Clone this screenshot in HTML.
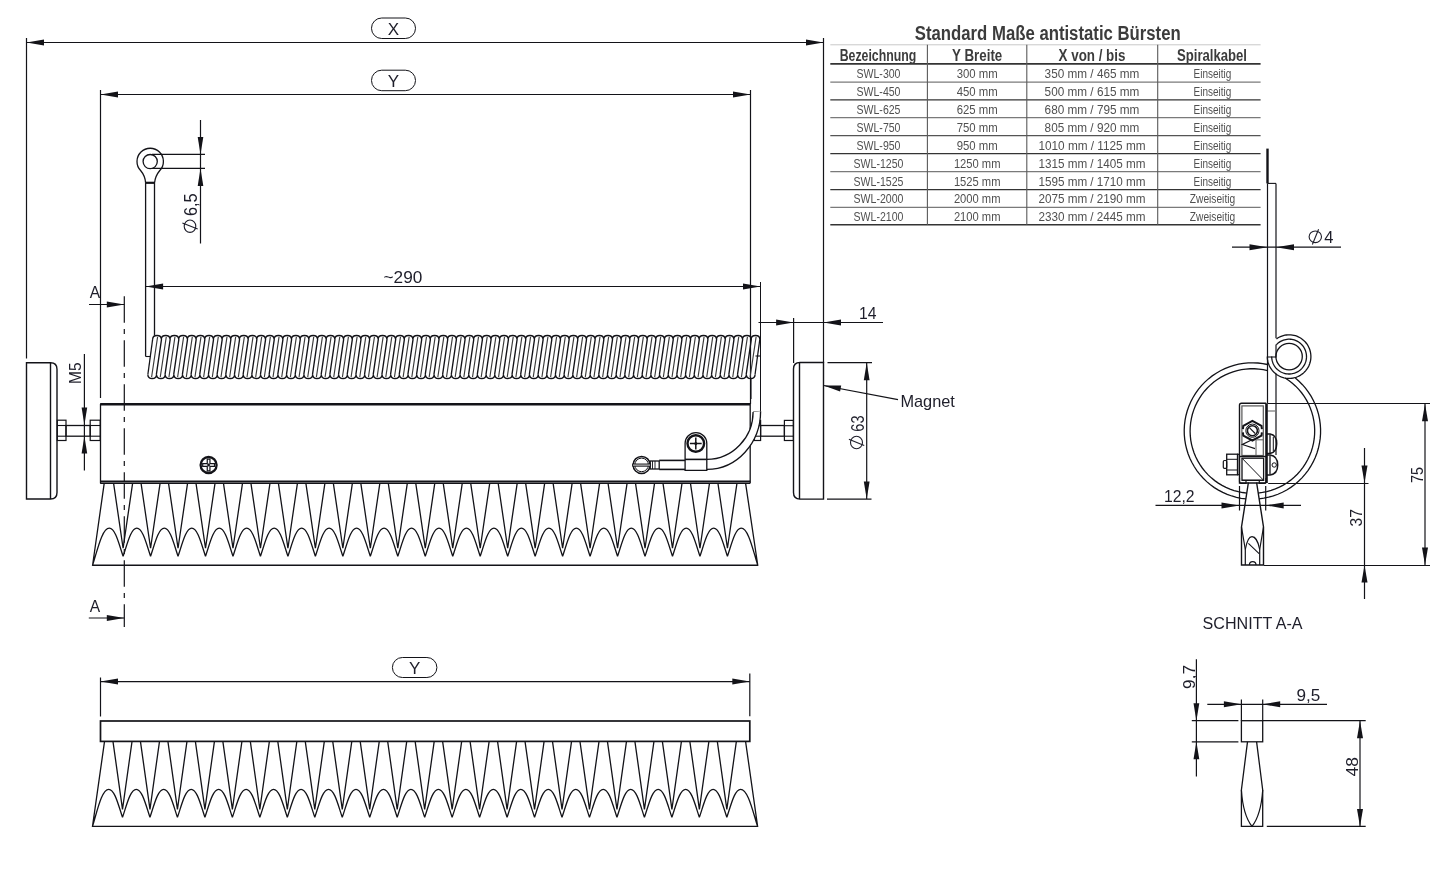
<!DOCTYPE html>
<html><head><meta charset="utf-8"><style>
html,body{margin:0;padding:0;background:#fff;width:1448px;height:880px;overflow:hidden}
svg{display:block;will-change:transform}
</style></head><body>
<svg width="1448" height="880" viewBox="0 0 1448 880">
<rect width="1448" height="880" fill="#fff"/>
<line x1="26.5" y1="38" x2="26.5" y2="358.5" stroke="#131318" stroke-width="1.2" />
<line x1="823.5" y1="38" x2="823.5" y2="363" stroke="#131318" stroke-width="1.2" />
<line x1="26.5" y1="42.5" x2="823.5" y2="42.5" stroke="#131318" stroke-width="1.2" />
<polygon points="26.5,42.5 44,39.5 44,45.5" fill="#131318"/>
<polygon points="823.5,42.5 806,39.5 806,45.5" fill="#131318"/>
<rect x="371.5" y="18" width="44" height="20.5" rx="10.2" stroke="#131318" stroke-width="1.0" fill="none"/>
<text x="393.4" y="35" font-family="Liberation Sans" font-size="17" font-weight="normal" fill="#1e1e2a" text-anchor="middle">X</text>
<line x1="100.5" y1="90" x2="100.5" y2="398" stroke="#131318" stroke-width="1.2" />
<line x1="750.5" y1="90" x2="750.5" y2="404" stroke="#131318" stroke-width="1.2" />
<line x1="100.5" y1="94.5" x2="750.5" y2="94.5" stroke="#131318" stroke-width="1.2" />
<polygon points="100.5,94.5 118,91.5 118,97.5" fill="#131318"/>
<polygon points="750.5,94.5 733,91.5 733,97.5" fill="#131318"/>
<rect x="371.5" y="70.2" width="44" height="20.5" rx="10.2" stroke="#131318" stroke-width="1.0" fill="none"/>
<text x="393.4" y="87.3" font-family="Liberation Sans" font-size="17" font-weight="normal" fill="#1e1e2a" text-anchor="middle">Y</text>
<path d="M145.6,182.8 Q145.2,176 140.6,170.5 A13.2,13.2 0 1 1 159.8,170.5 Q155.2,176 154.6,182.8" stroke="#131318" stroke-width="1.3" fill="none" />
<circle cx="150.2" cy="161.6" r="7.1" stroke="#131318" stroke-width="1.3" fill="none"/>
<line x1="145.2" y1="182.8" x2="155" y2="182.8" stroke="#131318" stroke-width="2.2" />
<line x1="145.6" y1="182.8" x2="145.6" y2="356.5" stroke="#131318" stroke-width="1.3" />
<line x1="154.5" y1="182.8" x2="154.5" y2="335.5" stroke="#131318" stroke-width="1.3" />
<line x1="152" y1="154.4" x2="205" y2="154.4" stroke="#131318" stroke-width="1.2" />
<line x1="152" y1="168.4" x2="205" y2="168.4" stroke="#131318" stroke-width="1.2" />
<line x1="200.5" y1="120" x2="200.5" y2="243.5" stroke="#131318" stroke-width="1.2" />
<polygon points="200.5,154.4 197.7,136.9 203.3,136.9" fill="#131318"/>
<polygon points="200.5,168.4 197.7,185.9 203.3,185.9" fill="#131318"/>
<text x="197" y="216" font-family="Liberation Sans" font-size="18" font-weight="normal" fill="#1e1e2a" text-anchor="start" transform="rotate(-90 197 216)" textLength="22.7" lengthAdjust="spacingAndGlyphs">6,5</text>
<g transform="rotate(-90 190 226.2)"><ellipse cx="190" cy="226.2" rx="6.2" ry="5.8" stroke="#1e1e2a" stroke-width="1.1" fill="none"/><line x1="193.3" y1="218.6" x2="187.1" y2="233.9" stroke="#1e1e2a" stroke-width="1.1"/></g>
<line x1="145.6" y1="286.5" x2="760.5" y2="286.5" stroke="#131318" stroke-width="1.2" />
<polygon points="145.6,286.5 163.1,283.5 163.1,289.5" fill="#131318"/>
<polygon points="760.5,286.5 743,283.5 743,289.5" fill="#131318"/>
<line x1="760.5" y1="282" x2="760.5" y2="411" stroke="#131318" stroke-width="1.0" />
<text x="383.5" y="282.9" font-family="Liberation Sans" font-size="17" font-weight="normal" fill="#1e1e2a" text-anchor="start" textLength="38.8" lengthAdjust="spacingAndGlyphs">~290</text>
<path d="M152.66,339.2 C152.76,334.2 161.24,334.2 161.34,339.2 M147.86,374.7 C147.96,379.7 156.44,379.7 156.54,374.7 M161.34,339.2 C161.44,334.2 169.91,334.2 170.01,339.2 M156.54,374.7 C156.64,379.7 165.11,379.7 165.21,374.7 M170.01,339.2 C170.11,334.2 178.58,334.2 178.68,339.2 M165.21,374.7 C165.31,379.7 173.78,379.7 173.88,374.7 M178.68,339.2 C178.78,334.2 187.26,334.2 187.36,339.2 M173.88,374.7 C173.98,379.7 182.46,379.7 182.56,374.7 M187.36,339.2 C187.46,334.2 195.93,334.2 196.03,339.2 M182.56,374.7 C182.66,379.7 191.13,379.7 191.23,374.7 M196.03,339.2 C196.13,334.2 204.61,334.2 204.71,339.2 M191.23,374.7 C191.33,379.7 199.81,379.7 199.91,374.7 M204.71,339.2 C204.81,334.2 213.28,334.2 213.38,339.2 M199.91,374.7 C200.01,379.7 208.48,379.7 208.58,374.7 M213.38,339.2 C213.48,334.2 221.95,334.2 222.05,339.2 M208.58,374.7 C208.68,379.7 217.15,379.7 217.25,374.7 M222.05,339.2 C222.15,334.2 230.63,334.2 230.73,339.2 M217.25,374.7 C217.35,379.7 225.83,379.7 225.93,374.7 M230.73,339.2 C230.83,334.2 239.3,334.2 239.4,339.2 M225.93,374.7 C226.03,379.7 234.5,379.7 234.6,374.7 M239.4,339.2 C239.5,334.2 247.98,334.2 248.08,339.2 M234.6,374.7 C234.7,379.7 243.18,379.7 243.28,374.7 M248.08,339.2 C248.18,334.2 256.65,334.2 256.75,339.2 M243.28,374.7 C243.38,379.7 251.85,379.7 251.95,374.7 M256.75,339.2 C256.85,334.2 265.32,334.2 265.42,339.2 M251.95,374.7 C252.05,379.7 260.52,379.7 260.62,374.7 M265.42,339.2 C265.52,334.2 274,334.2 274.1,339.2 M260.62,374.7 C260.72,379.7 269.2,379.7 269.3,374.7 M274.1,339.2 C274.2,334.2 282.67,334.2 282.77,339.2 M269.3,374.7 C269.4,379.7 277.87,379.7 277.97,374.7 M282.77,339.2 C282.87,334.2 291.35,334.2 291.45,339.2 M277.97,374.7 C278.07,379.7 286.55,379.7 286.65,374.7 M291.45,339.2 C291.55,334.2 300.02,334.2 300.12,339.2 M286.65,374.7 C286.75,379.7 295.22,379.7 295.32,374.7 M300.12,339.2 C300.22,334.2 308.69,334.2 308.79,339.2 M295.32,374.7 C295.42,379.7 303.89,379.7 303.99,374.7 M308.79,339.2 C308.89,334.2 317.37,334.2 317.47,339.2 M303.99,374.7 C304.09,379.7 312.57,379.7 312.67,374.7 M317.47,339.2 C317.57,334.2 326.04,334.2 326.14,339.2 M312.67,374.7 C312.77,379.7 321.24,379.7 321.34,374.7 M326.14,339.2 C326.24,334.2 334.72,334.2 334.82,339.2 M321.34,374.7 C321.44,379.7 329.92,379.7 330.02,374.7 M334.82,339.2 C334.92,334.2 343.39,334.2 343.49,339.2 M330.02,374.7 C330.12,379.7 338.59,379.7 338.69,374.7 M343.49,339.2 C343.59,334.2 352.06,334.2 352.16,339.2 M338.69,374.7 C338.79,379.7 347.26,379.7 347.36,374.7 M352.16,339.2 C352.26,334.2 360.74,334.2 360.84,339.2 M347.36,374.7 C347.46,379.7 355.94,379.7 356.04,374.7 M360.84,339.2 C360.94,334.2 369.41,334.2 369.51,339.2 M356.04,374.7 C356.14,379.7 364.61,379.7 364.71,374.7 M369.51,339.2 C369.61,334.2 378.08,334.2 378.18,339.2 M364.71,374.7 C364.81,379.7 373.28,379.7 373.38,374.7 M378.18,339.2 C378.28,334.2 386.76,334.2 386.86,339.2 M373.38,374.7 C373.48,379.7 381.96,379.7 382.06,374.7 M386.86,339.2 C386.96,334.2 395.43,334.2 395.53,339.2 M382.06,374.7 C382.16,379.7 390.63,379.7 390.73,374.7 M395.53,339.2 C395.63,334.2 404.11,334.2 404.21,339.2 M390.73,374.7 C390.83,379.7 399.31,379.7 399.41,374.7 M404.21,339.2 C404.31,334.2 412.78,334.2 412.88,339.2 M399.41,374.7 C399.51,379.7 407.98,379.7 408.08,374.7 M412.88,339.2 C412.98,334.2 421.45,334.2 421.55,339.2 M408.08,374.7 C408.18,379.7 416.65,379.7 416.75,374.7 M421.55,339.2 C421.65,334.2 430.13,334.2 430.23,339.2 M416.75,374.7 C416.85,379.7 425.33,379.7 425.43,374.7 M430.23,339.2 C430.33,334.2 438.8,334.2 438.9,339.2 M425.43,374.7 C425.53,379.7 434,379.7 434.1,374.7 M438.9,339.2 C439,334.2 447.48,334.2 447.58,339.2 M434.1,374.7 C434.2,379.7 442.68,379.7 442.78,374.7 M447.58,339.2 C447.68,334.2 456.15,334.2 456.25,339.2 M442.78,374.7 C442.88,379.7 451.35,379.7 451.45,374.7 M456.25,339.2 C456.35,334.2 464.82,334.2 464.92,339.2 M451.45,374.7 C451.55,379.7 460.02,379.7 460.12,374.7 M464.92,339.2 C465.02,334.2 473.5,334.2 473.6,339.2 M460.12,374.7 C460.22,379.7 468.7,379.7 468.8,374.7 M473.6,339.2 C473.7,334.2 482.17,334.2 482.27,339.2 M468.8,374.7 C468.9,379.7 477.37,379.7 477.47,374.7 M482.27,339.2 C482.37,334.2 490.85,334.2 490.95,339.2 M477.47,374.7 C477.57,379.7 486.05,379.7 486.15,374.7 M490.95,339.2 C491.05,334.2 499.52,334.2 499.62,339.2 M486.15,374.7 C486.25,379.7 494.72,379.7 494.82,374.7 M499.62,339.2 C499.72,334.2 508.19,334.2 508.29,339.2 M494.82,374.7 C494.92,379.7 503.39,379.7 503.49,374.7 M508.29,339.2 C508.39,334.2 516.87,334.2 516.97,339.2 M503.49,374.7 C503.59,379.7 512.07,379.7 512.17,374.7 M516.97,339.2 C517.07,334.2 525.54,334.2 525.64,339.2 M512.17,374.7 C512.27,379.7 520.74,379.7 520.84,374.7 M525.64,339.2 C525.74,334.2 534.22,334.2 534.32,339.2 M520.84,374.7 C520.94,379.7 529.42,379.7 529.52,374.7 M534.32,339.2 C534.42,334.2 542.89,334.2 542.99,339.2 M529.52,374.7 C529.62,379.7 538.09,379.7 538.19,374.7 M542.99,339.2 C543.09,334.2 551.56,334.2 551.66,339.2 M538.19,374.7 C538.29,379.7 546.76,379.7 546.86,374.7 M551.66,339.2 C551.76,334.2 560.24,334.2 560.34,339.2 M546.86,374.7 C546.96,379.7 555.44,379.7 555.54,374.7 M560.34,339.2 C560.44,334.2 568.91,334.2 569.01,339.2 M555.54,374.7 C555.64,379.7 564.11,379.7 564.21,374.7 M569.01,339.2 C569.11,334.2 577.58,334.2 577.68,339.2 M564.21,374.7 C564.31,379.7 572.78,379.7 572.88,374.7 M577.68,339.2 C577.78,334.2 586.26,334.2 586.36,339.2 M572.88,374.7 C572.98,379.7 581.46,379.7 581.56,374.7 M586.36,339.2 C586.46,334.2 594.93,334.2 595.03,339.2 M581.56,374.7 C581.66,379.7 590.13,379.7 590.23,374.7 M595.03,339.2 C595.13,334.2 603.61,334.2 603.71,339.2 M590.23,374.7 C590.33,379.7 598.81,379.7 598.91,374.7 M603.71,339.2 C603.81,334.2 612.28,334.2 612.38,339.2 M598.91,374.7 C599.01,379.7 607.48,379.7 607.58,374.7 M612.38,339.2 C612.48,334.2 620.95,334.2 621.05,339.2 M607.58,374.7 C607.68,379.7 616.15,379.7 616.25,374.7 M621.05,339.2 C621.15,334.2 629.63,334.2 629.73,339.2 M616.25,374.7 C616.35,379.7 624.83,379.7 624.93,374.7 M629.73,339.2 C629.83,334.2 638.3,334.2 638.4,339.2 M624.93,374.7 C625.03,379.7 633.5,379.7 633.6,374.7 M638.4,339.2 C638.5,334.2 646.98,334.2 647.08,339.2 M633.6,374.7 C633.7,379.7 642.18,379.7 642.28,374.7 M647.08,339.2 C647.18,334.2 655.65,334.2 655.75,339.2 M642.28,374.7 C642.38,379.7 650.85,379.7 650.95,374.7 M655.75,339.2 C655.85,334.2 664.32,334.2 664.42,339.2 M650.95,374.7 C651.05,379.7 659.52,379.7 659.62,374.7 M664.42,339.2 C664.52,334.2 673,334.2 673.1,339.2 M659.62,374.7 C659.72,379.7 668.2,379.7 668.3,374.7 M673.1,339.2 C673.2,334.2 681.67,334.2 681.77,339.2 M668.3,374.7 C668.4,379.7 676.87,379.7 676.97,374.7 M681.77,339.2 C681.87,334.2 690.35,334.2 690.45,339.2 M676.97,374.7 C677.07,379.7 685.55,379.7 685.65,374.7 M690.45,339.2 C690.55,334.2 699.02,334.2 699.12,339.2 M685.65,374.7 C685.75,379.7 694.22,379.7 694.32,374.7 M699.12,339.2 C699.22,334.2 707.69,334.2 707.79,339.2 M694.32,374.7 C694.42,379.7 702.89,379.7 702.99,374.7 M707.79,339.2 C707.89,334.2 716.37,334.2 716.47,339.2 M702.99,374.7 C703.09,379.7 711.57,379.7 711.67,374.7 M716.47,339.2 C716.57,334.2 725.04,334.2 725.14,339.2 M711.67,374.7 C711.77,379.7 720.24,379.7 720.34,374.7 M725.14,339.2 C725.24,334.2 733.72,334.2 733.82,339.2 M720.34,374.7 C720.44,379.7 728.92,379.7 729.02,374.7 M733.82,339.2 C733.92,334.2 742.39,334.2 742.49,339.2 M729.02,374.7 C729.12,379.7 737.59,379.7 737.69,374.7 M742.49,339.2 C742.59,334.2 751.06,334.2 751.16,339.2 M737.69,374.7 C737.79,379.7 746.26,379.7 746.36,374.7 M751.16,339.2 C751.26,334.2 759.74,334.2 759.84,339.2 M746.36,374.7 C746.46,379.7 754.94,379.7 755.04,374.7 M161.54,339.2 L156.34,374.7 M170.21,339.2 L165.01,374.7 M178.88,339.2 L173.68,374.7 M187.56,339.2 L182.36,374.7 M196.23,339.2 L191.03,374.7 M204.91,339.2 L199.71,374.7 M213.58,339.2 L208.38,374.7 M222.25,339.2 L217.05,374.7 M230.93,339.2 L225.73,374.7 M239.6,339.2 L234.4,374.7 M248.28,339.2 L243.08,374.7 M256.95,339.2 L251.75,374.7 M265.62,339.2 L260.42,374.7 M274.3,339.2 L269.1,374.7 M282.97,339.2 L277.77,374.7 M291.65,339.2 L286.45,374.7 M300.32,339.2 L295.12,374.7 M308.99,339.2 L303.79,374.7 M317.67,339.2 L312.47,374.7 M326.34,339.2 L321.14,374.7 M335.02,339.2 L329.82,374.7 M343.69,339.2 L338.49,374.7 M352.36,339.2 L347.16,374.7 M361.04,339.2 L355.84,374.7 M369.71,339.2 L364.51,374.7 M378.38,339.2 L373.18,374.7 M387.06,339.2 L381.86,374.7 M395.73,339.2 L390.53,374.7 M404.41,339.2 L399.21,374.7 M413.08,339.2 L407.88,374.7 M421.75,339.2 L416.55,374.7 M430.43,339.2 L425.23,374.7 M439.1,339.2 L433.9,374.7 M447.78,339.2 L442.58,374.7 M456.45,339.2 L451.25,374.7 M465.12,339.2 L459.92,374.7 M473.8,339.2 L468.6,374.7 M482.47,339.2 L477.27,374.7 M491.15,339.2 L485.95,374.7 M499.82,339.2 L494.62,374.7 M508.49,339.2 L503.29,374.7 M517.17,339.2 L511.97,374.7 M525.84,339.2 L520.64,374.7 M534.52,339.2 L529.32,374.7 M543.19,339.2 L537.99,374.7 M551.86,339.2 L546.66,374.7 M560.54,339.2 L555.34,374.7 M569.21,339.2 L564.01,374.7 M577.88,339.2 L572.68,374.7 M586.56,339.2 L581.36,374.7 M595.23,339.2 L590.03,374.7 M603.91,339.2 L598.71,374.7 M612.58,339.2 L607.38,374.7 M621.25,339.2 L616.05,374.7 M629.93,339.2 L624.73,374.7 M638.6,339.2 L633.4,374.7 M647.28,339.2 L642.08,374.7 M655.95,339.2 L650.75,374.7 M664.62,339.2 L659.42,374.7 M673.3,339.2 L668.1,374.7 M681.97,339.2 L676.77,374.7 M690.65,339.2 L685.45,374.7 M699.32,339.2 L694.12,374.7 M707.99,339.2 L702.79,374.7 M716.67,339.2 L711.47,374.7 M725.34,339.2 L720.14,374.7 M734.02,339.2 L728.82,374.7 M742.69,339.2 L737.49,374.7 M751.36,339.2 L746.16,374.7" stroke="#131318" stroke-width="1.35" fill="none" />
<path d="M157.6,336.9 L151.6,377 M166.27,336.9 L160.27,377 M174.95,336.9 L168.95,377 M183.62,336.9 L177.62,377 M192.3,336.9 L186.3,377 M200.97,336.9 L194.97,377 M209.64,336.9 L203.64,377 M218.32,336.9 L212.32,377 M226.99,336.9 L220.99,377 M235.67,336.9 L229.67,377 M244.34,336.9 L238.34,377 M253.01,336.9 L247.01,377 M261.69,336.9 L255.69,377 M270.36,336.9 L264.36,377 M279.03,336.9 L273.03,377 M287.71,336.9 L281.71,377 M296.38,336.9 L290.38,377 M305.06,336.9 L299.06,377 M313.73,336.9 L307.73,377 M322.4,336.9 L316.4,377 M331.08,336.9 L325.08,377 M339.75,336.9 L333.75,377 M348.43,336.9 L342.43,377 M357.1,336.9 L351.1,377 M365.77,336.9 L359.77,377 M374.45,336.9 L368.45,377 M383.12,336.9 L377.12,377 M391.8,336.9 L385.8,377 M400.47,336.9 L394.47,377 M409.14,336.9 L403.14,377 M417.82,336.9 L411.82,377 M426.49,336.9 L420.49,377 M435.17,336.9 L429.17,377 M443.84,336.9 L437.84,377 M452.51,336.9 L446.51,377 M461.19,336.9 L455.19,377 M469.86,336.9 L463.86,377 M478.53,336.9 L472.53,377 M487.21,336.9 L481.21,377 M495.88,336.9 L489.88,377 M504.56,336.9 L498.56,377 M513.23,336.9 L507.23,377 M521.9,336.9 L515.9,377 M530.58,336.9 L524.58,377 M539.25,336.9 L533.25,377 M547.93,336.9 L541.93,377 M556.6,336.9 L550.6,377 M565.27,336.9 L559.27,377 M573.95,336.9 L567.95,377 M582.62,336.9 L576.62,377 M591.3,336.9 L585.3,377 M599.97,336.9 L593.97,377 M608.64,336.9 L602.64,377 M617.32,336.9 L611.32,377 M625.99,336.9 L619.99,377 M634.67,336.9 L628.67,377 M643.34,336.9 L637.34,377 M652.01,336.9 L646.01,377 M660.69,336.9 L654.69,377 M669.36,336.9 L663.36,377 M678.03,336.9 L672.03,377 M686.71,336.9 L680.71,377 M695.38,336.9 L689.38,377 M704.06,336.9 L698.06,377 M712.73,336.9 L706.73,377 M721.4,336.9 L715.4,377 M730.08,336.9 L724.08,377 M738.75,336.9 L732.75,377 M747.43,336.9 L741.43,377 M756.1,336.9 L750.1,377" stroke="#3a3a3a" stroke-width="1.15" fill="none" />
<line x1="145.6" y1="356.5" x2="150.5" y2="356.5" stroke="#131318" stroke-width="1.1" />
<path d="M152.66,339.2 L147.86,374.7" stroke="#131318" stroke-width="1.25" fill="none" />
<path d="M759.84,339.2 L755.04,374.7" stroke="#131318" stroke-width="1.25" fill="none" />
<line x1="755.5" y1="356" x2="760.5" y2="356" stroke="#131318" stroke-width="1.1" />
<text x="89.8" y="297.9" font-family="Liberation Sans" font-size="17" font-weight="normal" fill="#1e1e2a" text-anchor="start" textLength="10.4" lengthAdjust="spacingAndGlyphs">A</text>
<line x1="89" y1="304.5" x2="124.3" y2="304.5" stroke="#131318" stroke-width="1.2" />
<polygon points="124.3,304.5 106.8,301.5 106.8,307.5" fill="#131318"/>
<text x="89.8" y="611.9" font-family="Liberation Sans" font-size="17" font-weight="normal" fill="#1e1e2a" text-anchor="start" textLength="10.4" lengthAdjust="spacingAndGlyphs">A</text>
<line x1="88.8" y1="618" x2="124.3" y2="618" stroke="#131318" stroke-width="1.2" />
<polygon points="124.3,618 106.8,615 106.8,621" fill="#131318"/>
<line x1="124.3" y1="296.3" x2="124.3" y2="627" stroke="#131318" stroke-width="1.2" stroke-dasharray="26.5 6.3 5 6.2"/>
<path d="M26.5,362.8 L50.5,362.8 Q57,362.8 57,369.3 L57,492.5 Q57,499 50.5,499 L26.5,499 Z" stroke="#131318" stroke-width="1.4" fill="none" />
<line x1="50.5" y1="362.8" x2="50.5" y2="499" stroke="#131318" stroke-width="1.4" />
<path d="M823.5,362.5 L800,362.5 Q793.5,362.5 793.5,369 L793.5,492.6 Q793.5,499.1 800,499.1 L823.5,499.1 Z" stroke="#131318" stroke-width="1.4" fill="none" />
<line x1="799.5" y1="362.5" x2="799.5" y2="499.1" stroke="#131318" stroke-width="1.4" />
<rect x="57.3" y="420.2" width="8.7" height="20.3" rx="0" stroke="#131318" stroke-width="1.2" fill="none"/>
<line x1="57.3" y1="425.5" x2="66" y2="425.5" stroke="#131318" stroke-width="1.1" />
<line x1="57.3" y1="436.2" x2="66" y2="436.2" stroke="#131318" stroke-width="1.1" />
<rect x="66" y="425.5" width="24.2" height="10.7" rx="0" stroke="#131318" stroke-width="1.3" fill="none"/>
<rect x="90.2" y="420.2" width="10" height="20.3" rx="0" stroke="#131318" stroke-width="1.2" fill="none"/>
<line x1="90.2" y1="425.5" x2="100.2" y2="425.5" stroke="#131318" stroke-width="1.1" />
<line x1="90.2" y1="436.2" x2="100.2" y2="436.2" stroke="#131318" stroke-width="1.1" />
<rect x="760.6" y="425.5" width="23.8" height="10.7" rx="0" stroke="#131318" stroke-width="1.3" fill="none"/>
<rect x="784.4" y="420.4" width="9" height="20.1" rx="0" stroke="#131318" stroke-width="1.2" fill="none"/>
<line x1="784.4" y1="425.7" x2="793.4" y2="425.7" stroke="#131318" stroke-width="1.1" />
<line x1="784.4" y1="436.2" x2="793.4" y2="436.2" stroke="#131318" stroke-width="1.1" />
<line x1="84.4" y1="354" x2="84.4" y2="470.5" stroke="#131318" stroke-width="1.2" />
<polygon points="84.4,425 81.6,407.5 87.2,407.5" fill="#131318"/>
<polygon points="84.4,436 81.6,453.5 87.2,453.5" fill="#131318"/>
<text x="81.3" y="384" font-family="Liberation Sans" font-size="17" font-weight="normal" fill="#1e1e2a" text-anchor="start" transform="rotate(-90 81.3 384)" textLength="21.6" lengthAdjust="spacingAndGlyphs">M5</text>
<line x1="100.2" y1="404.2" x2="750.2" y2="404.2" stroke="#131318" stroke-width="2.4" />
<rect x="100.2" y="481.2" width="650" height="2.1" rx="0" stroke="#131318" stroke-width="0" fill="#b5b5b5"/>
<line x1="100.2" y1="481.2" x2="750.2" y2="481.2" stroke="#131318" stroke-width="1.4" />
<line x1="100.2" y1="483.3" x2="750.2" y2="483.3" stroke="#131318" stroke-width="1.4" />
<line x1="100.5" y1="403.8" x2="100.5" y2="483.3" stroke="#131318" stroke-width="1.3" />
<line x1="750.2" y1="403.8" x2="750.2" y2="483.3" stroke="#131318" stroke-width="1.3" />
<circle cx="208.6" cy="465" r="8" stroke="#131318" stroke-width="2.3" fill="none"/>
<path d="M207.25,459.1 L209.95,459.1 L209.95,463.65 L214.5,463.65 L214.5,466.35 L209.95,466.35 L209.95,470.9 L207.25,470.9 L207.25,466.35 L202.7,466.35 L202.7,463.65 L207.25,463.65 Z" stroke="#131318" stroke-width="1.2" fill="none" />
<circle cx="208.6" cy="465" r="1.4" stroke="#131318" stroke-width="0" fill="#131318"/>
<path d="M104.2,483.3 L92.6,565.25 L757.75,565.25 L745.6,483.3 M113.6,483.3 L123.1,548.25 L132.6,483.3 M141.07,483.3 L150.57,548.25 L160.07,483.3 M168.54,483.3 L178.04,548.25 L187.54,483.3 M196.01,483.3 L205.51,548.25 L215.01,483.3 M223.48,483.3 L232.98,548.25 L242.48,483.3 M250.95,483.3 L260.45,548.25 L269.95,483.3 M278.42,483.3 L287.92,548.25 L297.42,483.3 M305.89,483.3 L315.39,548.25 L324.89,483.3 M333.36,483.3 L342.86,548.25 L352.36,483.3 M360.83,483.3 L370.33,548.25 L379.83,483.3 M388.3,483.3 L397.8,548.25 L407.3,483.3 M415.77,483.3 L425.27,548.25 L434.77,483.3 M443.24,483.3 L452.74,548.25 L462.24,483.3 M470.71,483.3 L480.21,548.25 L489.71,483.3 M498.18,483.3 L507.68,548.25 L517.18,483.3 M525.65,483.3 L535.15,548.25 L544.65,483.3 M553.12,483.3 L562.62,548.25 L572.12,483.3 M580.59,483.3 L590.09,548.25 L599.59,483.3 M608.06,483.3 L617.56,548.25 L627.06,483.3 M635.53,483.3 L645.03,548.25 L654.53,483.3 M663,483.3 L672.5,548.25 L682,483.3 M690.47,483.3 L699.97,548.25 L709.47,483.3 M717.94,483.3 L727.44,548.25 L736.94,483.3 M92.6,565.25 C97.46,550.06 101.99,528.2 109.36,528.2 C115.41,528.2 119.12,544.75 123.1,556.25 M123.1,556.25 C127.08,544.75 130.79,528.2 136.83,528.2 C142.88,528.2 146.59,544.75 150.57,556.25 M150.57,556.25 C154.55,544.75 158.26,528.2 164.31,528.2 C170.35,528.2 174.06,544.75 178.04,556.25 M178.04,556.25 C182.02,544.75 185.73,528.2 191.77,528.2 C197.82,528.2 201.53,544.75 205.51,556.25 M205.51,556.25 C209.49,544.75 213.2,528.2 219.25,528.2 C225.29,528.2 229,544.75 232.98,556.25 M232.98,556.25 C236.96,544.75 240.67,528.2 246.71,528.2 C252.76,528.2 256.47,544.75 260.45,556.25 M260.45,556.25 C264.43,544.75 268.14,528.2 274.18,528.2 C280.23,528.2 283.94,544.75 287.92,556.25 M287.92,556.25 C291.9,544.75 295.61,528.2 301.65,528.2 C307.7,528.2 311.41,544.75 315.39,556.25 M315.39,556.25 C319.37,544.75 323.08,528.2 329.12,528.2 C335.17,528.2 338.88,544.75 342.86,556.25 M342.86,556.25 C346.84,544.75 350.55,528.2 356.6,528.2 C362.64,528.2 366.35,544.75 370.33,556.25 M370.33,556.25 C374.31,544.75 378.02,528.2 384.06,528.2 C390.11,528.2 393.82,544.75 397.8,556.25 M397.8,556.25 C401.78,544.75 405.49,528.2 411.53,528.2 C417.58,528.2 421.29,544.75 425.27,556.25 M425.27,556.25 C429.25,544.75 432.96,528.2 439,528.2 C445.05,528.2 448.76,544.75 452.74,556.25 M452.74,556.25 C456.72,544.75 460.43,528.2 466.48,528.2 C472.52,528.2 476.23,544.75 480.21,556.25 M480.21,556.25 C484.19,544.75 487.9,528.2 493.94,528.2 C499.99,528.2 503.7,544.75 507.68,556.25 M507.68,556.25 C511.66,544.75 515.37,528.2 521.41,528.2 C527.46,528.2 531.17,544.75 535.15,556.25 M535.15,556.25 C539.13,544.75 542.84,528.2 548.88,528.2 C554.93,528.2 558.64,544.75 562.62,556.25 M562.62,556.25 C566.6,544.75 570.31,528.2 576.36,528.2 C582.4,528.2 586.11,544.75 590.09,556.25 M590.09,556.25 C594.07,544.75 597.78,528.2 603.83,528.2 C609.87,528.2 613.58,544.75 617.56,556.25 M617.56,556.25 C621.54,544.75 625.25,528.2 631.29,528.2 C637.34,528.2 641.05,544.75 645.03,556.25 M645.03,556.25 C649.01,544.75 652.72,528.2 658.76,528.2 C664.81,528.2 668.52,544.75 672.5,556.25 M672.5,556.25 C676.48,544.75 680.19,528.2 686.24,528.2 C692.28,528.2 695.99,544.75 699.97,556.25 M699.97,556.25 C703.95,544.75 707.66,528.2 713.7,528.2 C719.75,528.2 723.46,544.75 727.44,556.25 M727.44,556.25 C731.42,544.75 735.13,528.2 741.17,528.2 C748.47,528.2 752.94,550.06 757.75,565.25" stroke="#131318" stroke-width="1.3" fill="none" />
<line x1="751" y1="378.5" x2="751" y2="399" stroke="#131318" stroke-width="1.1" />
<line x1="753.1" y1="411.9" x2="760.6" y2="411.3" stroke="#555" stroke-width="1.0" />
<rect x="754.3" y="420.4" width="6.3" height="20.1" rx="0" stroke="#131318" stroke-width="1.2" fill="none"/>
<line x1="754.3" y1="425.7" x2="760.6" y2="425.7" stroke="#131318" stroke-width="1.1" />
<line x1="754.3" y1="436.2" x2="760.6" y2="436.2" stroke="#131318" stroke-width="1.1" />
<path d="M760.6,411.3 C760.6,443 737,469.4 706.9,469.4 L706.9,459.4 C733,459.4 753.1,437 753.1,411.9 Z" stroke="#131318" stroke-width="0" fill="#fff" />
<path d="M760.6,411.3 C760.6,443 737,469.4 706.9,469.4" stroke="#131318" stroke-width="1.3" fill="none" />
<path d="M753.1,411.9 C753.1,437 733,459.4 706.9,459.4" stroke="#131318" stroke-width="1.3" fill="none" />
<path d="M685.1,470.4 L685.1,443.5 A10.85,10.85 0 0 1 706.8,443.5 L706.8,470.4 Z" stroke="#131318" stroke-width="1.3" fill="none" />
<line x1="685.1" y1="459.4" x2="706.8" y2="459.4" stroke="#131318" stroke-width="1.6" />
<circle cx="695.8" cy="443.5" r="8.3" stroke="#131318" stroke-width="2.4" fill="none"/>
<line x1="689.9" y1="443.5" x2="701.7" y2="443.5" stroke="#131318" stroke-width="1.5" />
<line x1="695.8" y1="437.5" x2="695.8" y2="449.5" stroke="#131318" stroke-width="1.5" />
<circle cx="695.8" cy="443.5" r="1.5" stroke="#131318" stroke-width="0" fill="#131318"/>
<line x1="659.2" y1="460.4" x2="685.1" y2="460.4" stroke="#131318" stroke-width="1.6" />
<line x1="659.2" y1="469.4" x2="685.1" y2="469.4" stroke="#131318" stroke-width="1.6" />
<rect x="650.2" y="461" width="9" height="8" rx="0" stroke="#131318" stroke-width="1.3" fill="none"/>
<line x1="652.5" y1="461" x2="652.5" y2="469" stroke="#131318" stroke-width="0.9" />
<line x1="655" y1="461" x2="655" y2="469" stroke="#131318" stroke-width="0.9" />
<circle cx="641.6" cy="464.9" r="8.5" stroke="#131318" stroke-width="1.5" fill="none"/>
<circle cx="641.6" cy="464.9" r="6.8" stroke="#131318" stroke-width="1.0" fill="none"/>
<rect x="632.6" y="464" width="18" height="2.2" rx="0" stroke="#131318" stroke-width="0.9" fill="#bbb"/>
<line x1="758.5" y1="322.5" x2="883" y2="322.5" stroke="#131318" stroke-width="1.2" />
<line x1="793.6" y1="318" x2="793.6" y2="363" stroke="#131318" stroke-width="1.2" />
<polygon points="793.6,322.5 776.1,319.5 776.1,325.5" fill="#131318"/>
<polygon points="823.5,322.5 841,319.5 841,325.5" fill="#131318"/>
<text x="859" y="319.1" font-family="Liberation Sans" font-size="17" font-weight="normal" fill="#1e1e2a" text-anchor="start" textLength="17.5" lengthAdjust="spacingAndGlyphs">14</text>
<line x1="827.5" y1="362.7" x2="872" y2="362.7" stroke="#131318" stroke-width="1.2" />
<line x1="827" y1="499.1" x2="871.5" y2="499.1" stroke="#131318" stroke-width="1.2" />
<line x1="866.7" y1="362.7" x2="866.7" y2="499.1" stroke="#131318" stroke-width="1.2" />
<polygon points="866.7,362.7 863.8,380.2 869.6,380.2" fill="#131318"/>
<polygon points="866.7,499.1 863.8,481.6 869.6,481.6" fill="#131318"/>
<text x="863.6" y="431.7" font-family="Liberation Sans" font-size="18" font-weight="normal" fill="#1e1e2a" text-anchor="start" transform="rotate(-90 863.6 431.7)" textLength="16.2" lengthAdjust="spacingAndGlyphs">63</text>
<g transform="rotate(-90 856.5 442.5)"><ellipse cx="856.5" cy="442.5" rx="6.25" ry="6" stroke="#1e1e2a" stroke-width="1.1" fill="none"/><line x1="859.8" y1="434.9" x2="853.6" y2="450.2" stroke="#1e1e2a" stroke-width="1.1"/></g>
<line x1="823.5" y1="385.5" x2="898" y2="399.7" stroke="#131318" stroke-width="1.2" />
<polygon points="823.5,385.5 841.2,385.6 840.1,391.4" fill="#131318"/>
<text x="900.4" y="406.6" font-family="Liberation Sans" font-size="17" font-weight="normal" fill="#1e1e2a" text-anchor="start" textLength="54.5" lengthAdjust="spacingAndGlyphs">Magnet</text>
<text x="914.8" y="40.3" font-family="Liberation Sans" font-size="20" font-weight="bold" fill="#3c3c3c" text-anchor="start" textLength="265.9" lengthAdjust="spacingAndGlyphs">Standard Maße antistatic Bürsten</text>
<line x1="830.3" y1="44.8" x2="1260.6" y2="44.8" stroke="#c8c8c8" stroke-width="1.0" />
<line x1="830.3" y1="63.9" x2="1260.6" y2="63.9" stroke="#343434" stroke-width="1.6" />
<line x1="830.3" y1="82.1" x2="1260.6" y2="82.1" stroke="#7a7a7a" stroke-width="1.3" />
<line x1="830.3" y1="99.8" x2="1260.6" y2="99.8" stroke="#343434" stroke-width="1.3" />
<line x1="830.3" y1="117.7" x2="1260.6" y2="117.7" stroke="#7a7a7a" stroke-width="1.3" />
<line x1="830.3" y1="135.7" x2="1260.6" y2="135.7" stroke="#555" stroke-width="1.3" />
<line x1="830.3" y1="153.6" x2="1260.6" y2="153.6" stroke="#343434" stroke-width="1.3" />
<line x1="830.3" y1="171.7" x2="1260.6" y2="171.7" stroke="#7a7a7a" stroke-width="1.3" />
<line x1="830.3" y1="189.6" x2="1260.6" y2="189.6" stroke="#343434" stroke-width="1.3" />
<line x1="830.3" y1="207.4" x2="1260.6" y2="207.4" stroke="#7a7a7a" stroke-width="1.3" />
<line x1="830.3" y1="224.8" x2="1260.6" y2="224.8" stroke="#343434" stroke-width="1.6" />
<line x1="927.4" y1="44.8" x2="927.4" y2="224.8" stroke="#5a5a5a" stroke-width="1.1" />
<line x1="1026.8" y1="44.8" x2="1026.8" y2="224.8" stroke="#5a5a5a" stroke-width="1.1" />
<line x1="1157.7" y1="44.8" x2="1157.7" y2="224.8" stroke="#5a5a5a" stroke-width="1.1" />
<text x="878" y="60.5" font-family="Liberation Sans" font-size="16" font-weight="bold" fill="#3c3c3c" text-anchor="middle" textLength="76.6" lengthAdjust="spacingAndGlyphs">Bezeichnung</text>
<text x="977.2" y="60.5" font-family="Liberation Sans" font-size="16" font-weight="bold" fill="#3c3c3c" text-anchor="middle" textLength="50.2" lengthAdjust="spacingAndGlyphs">Y Breite</text>
<text x="1092" y="60.5" font-family="Liberation Sans" font-size="16" font-weight="bold" fill="#3c3c3c" text-anchor="middle" textLength="66.9" lengthAdjust="spacingAndGlyphs">X von / bis</text>
<text x="1212" y="60.5" font-family="Liberation Sans" font-size="16" font-weight="bold" fill="#3c3c3c" text-anchor="middle" textLength="70" lengthAdjust="spacingAndGlyphs">Spiralkabel</text>
<text x="878.5" y="78.1" font-family="Liberation Sans" font-size="13.5" font-weight="normal" fill="#505050" text-anchor="middle" textLength="44" lengthAdjust="spacingAndGlyphs">SWL-300</text>
<text x="977.2" y="78.1" font-family="Liberation Sans" font-size="13.5" font-weight="normal" fill="#505050" text-anchor="middle" textLength="41" lengthAdjust="spacingAndGlyphs">300 mm</text>
<text x="1092" y="78.1" font-family="Liberation Sans" font-size="13.5" font-weight="normal" fill="#505050" text-anchor="middle" textLength="94.8" lengthAdjust="spacingAndGlyphs">350 mm / 465 mm</text>
<text x="1212.5" y="78.1" font-family="Liberation Sans" font-size="13.5" font-weight="normal" fill="#505050" text-anchor="middle" textLength="37.8" lengthAdjust="spacingAndGlyphs">Einseitig</text>
<text x="878.5" y="95.8" font-family="Liberation Sans" font-size="13.5" font-weight="normal" fill="#505050" text-anchor="middle" textLength="44" lengthAdjust="spacingAndGlyphs">SWL-450</text>
<text x="977.2" y="95.8" font-family="Liberation Sans" font-size="13.5" font-weight="normal" fill="#505050" text-anchor="middle" textLength="41" lengthAdjust="spacingAndGlyphs">450 mm</text>
<text x="1092" y="95.8" font-family="Liberation Sans" font-size="13.5" font-weight="normal" fill="#505050" text-anchor="middle" textLength="94.8" lengthAdjust="spacingAndGlyphs">500 mm / 615 mm</text>
<text x="1212.5" y="95.8" font-family="Liberation Sans" font-size="13.5" font-weight="normal" fill="#505050" text-anchor="middle" textLength="37.8" lengthAdjust="spacingAndGlyphs">Einseitig</text>
<text x="878.5" y="113.7" font-family="Liberation Sans" font-size="13.5" font-weight="normal" fill="#505050" text-anchor="middle" textLength="44" lengthAdjust="spacingAndGlyphs">SWL-625</text>
<text x="977.2" y="113.7" font-family="Liberation Sans" font-size="13.5" font-weight="normal" fill="#505050" text-anchor="middle" textLength="41" lengthAdjust="spacingAndGlyphs">625 mm</text>
<text x="1092" y="113.7" font-family="Liberation Sans" font-size="13.5" font-weight="normal" fill="#505050" text-anchor="middle" textLength="94.8" lengthAdjust="spacingAndGlyphs">680 mm / 795 mm</text>
<text x="1212.5" y="113.7" font-family="Liberation Sans" font-size="13.5" font-weight="normal" fill="#505050" text-anchor="middle" textLength="37.8" lengthAdjust="spacingAndGlyphs">Einseitig</text>
<text x="878.5" y="131.7" font-family="Liberation Sans" font-size="13.5" font-weight="normal" fill="#505050" text-anchor="middle" textLength="44" lengthAdjust="spacingAndGlyphs">SWL-750</text>
<text x="977.2" y="131.7" font-family="Liberation Sans" font-size="13.5" font-weight="normal" fill="#505050" text-anchor="middle" textLength="41" lengthAdjust="spacingAndGlyphs">750 mm</text>
<text x="1092" y="131.7" font-family="Liberation Sans" font-size="13.5" font-weight="normal" fill="#505050" text-anchor="middle" textLength="94.8" lengthAdjust="spacingAndGlyphs">805 mm / 920 mm</text>
<text x="1212.5" y="131.7" font-family="Liberation Sans" font-size="13.5" font-weight="normal" fill="#505050" text-anchor="middle" textLength="37.8" lengthAdjust="spacingAndGlyphs">Einseitig</text>
<text x="878.5" y="149.6" font-family="Liberation Sans" font-size="13.5" font-weight="normal" fill="#505050" text-anchor="middle" textLength="44" lengthAdjust="spacingAndGlyphs">SWL-950</text>
<text x="977.2" y="149.6" font-family="Liberation Sans" font-size="13.5" font-weight="normal" fill="#505050" text-anchor="middle" textLength="41" lengthAdjust="spacingAndGlyphs">950 mm</text>
<text x="1092" y="149.6" font-family="Liberation Sans" font-size="13.5" font-weight="normal" fill="#505050" text-anchor="middle" textLength="107.2" lengthAdjust="spacingAndGlyphs">1010 mm / 1125 mm</text>
<text x="1212.5" y="149.6" font-family="Liberation Sans" font-size="13.5" font-weight="normal" fill="#505050" text-anchor="middle" textLength="37.8" lengthAdjust="spacingAndGlyphs">Einseitig</text>
<text x="878.5" y="167.7" font-family="Liberation Sans" font-size="13.5" font-weight="normal" fill="#505050" text-anchor="middle" textLength="49.9" lengthAdjust="spacingAndGlyphs">SWL-1250</text>
<text x="977.2" y="167.7" font-family="Liberation Sans" font-size="13.5" font-weight="normal" fill="#505050" text-anchor="middle" textLength="46.6" lengthAdjust="spacingAndGlyphs">1250 mm</text>
<text x="1092" y="167.7" font-family="Liberation Sans" font-size="13.5" font-weight="normal" fill="#505050" text-anchor="middle" textLength="107.2" lengthAdjust="spacingAndGlyphs">1315 mm / 1405 mm</text>
<text x="1212.5" y="167.7" font-family="Liberation Sans" font-size="13.5" font-weight="normal" fill="#505050" text-anchor="middle" textLength="37.8" lengthAdjust="spacingAndGlyphs">Einseitig</text>
<text x="878.5" y="185.6" font-family="Liberation Sans" font-size="13.5" font-weight="normal" fill="#505050" text-anchor="middle" textLength="49.9" lengthAdjust="spacingAndGlyphs">SWL-1525</text>
<text x="977.2" y="185.6" font-family="Liberation Sans" font-size="13.5" font-weight="normal" fill="#505050" text-anchor="middle" textLength="46.6" lengthAdjust="spacingAndGlyphs">1525 mm</text>
<text x="1092" y="185.6" font-family="Liberation Sans" font-size="13.5" font-weight="normal" fill="#505050" text-anchor="middle" textLength="107.2" lengthAdjust="spacingAndGlyphs">1595 mm / 1710 mm</text>
<text x="1212.5" y="185.6" font-family="Liberation Sans" font-size="13.5" font-weight="normal" fill="#505050" text-anchor="middle" textLength="37.8" lengthAdjust="spacingAndGlyphs">Einseitig</text>
<text x="878.5" y="203.4" font-family="Liberation Sans" font-size="13.5" font-weight="normal" fill="#505050" text-anchor="middle" textLength="49.9" lengthAdjust="spacingAndGlyphs">SWL-2000</text>
<text x="977.2" y="203.4" font-family="Liberation Sans" font-size="13.5" font-weight="normal" fill="#505050" text-anchor="middle" textLength="46.6" lengthAdjust="spacingAndGlyphs">2000 mm</text>
<text x="1092" y="203.4" font-family="Liberation Sans" font-size="13.5" font-weight="normal" fill="#505050" text-anchor="middle" textLength="107.2" lengthAdjust="spacingAndGlyphs">2075 mm / 2190 mm</text>
<text x="1212.5" y="203.4" font-family="Liberation Sans" font-size="13.5" font-weight="normal" fill="#505050" text-anchor="middle" textLength="45.3" lengthAdjust="spacingAndGlyphs">Zweiseitig</text>
<text x="878.5" y="220.8" font-family="Liberation Sans" font-size="13.5" font-weight="normal" fill="#505050" text-anchor="middle" textLength="49.9" lengthAdjust="spacingAndGlyphs">SWL-2100</text>
<text x="977.2" y="220.8" font-family="Liberation Sans" font-size="13.5" font-weight="normal" fill="#505050" text-anchor="middle" textLength="46.6" lengthAdjust="spacingAndGlyphs">2100 mm</text>
<text x="1092" y="220.8" font-family="Liberation Sans" font-size="13.5" font-weight="normal" fill="#505050" text-anchor="middle" textLength="107.2" lengthAdjust="spacingAndGlyphs">2330 mm / 2445 mm</text>
<text x="1212.5" y="220.8" font-family="Liberation Sans" font-size="13.5" font-weight="normal" fill="#505050" text-anchor="middle" textLength="45.3" lengthAdjust="spacingAndGlyphs">Zweiseitig</text>
<line x1="1267.5" y1="148.6" x2="1267.5" y2="183.4" stroke="#131318" stroke-width="2.4" />
<line x1="1267.5" y1="183.4" x2="1276" y2="183.4" stroke="#131318" stroke-width="1.1" />
<line x1="1267.5" y1="183.4" x2="1267.5" y2="403.3" stroke="#131318" stroke-width="1.2" />
<line x1="1276" y1="183.4" x2="1276" y2="338.2" stroke="#131318" stroke-width="1.2" />
<line x1="1276" y1="344.4" x2="1276" y2="357.5" stroke="#131318" stroke-width="1.2" />
<line x1="1276" y1="373.4" x2="1276" y2="455" stroke="#131318" stroke-width="1.2" />
<line x1="1267.5" y1="411" x2="1276" y2="411" stroke="#777" stroke-width="1.2" />
<line x1="1232" y1="247.2" x2="1341" y2="247.2" stroke="#131318" stroke-width="1.2" />
<polygon points="1267.5,247.2 1249.5,244.2 1249.5,250.2" fill="#131318"/>
<polygon points="1276,247.2 1294,244.2 1294,250.2" fill="#131318"/>
<g transform="rotate(0 1315.3 236.8)"><ellipse cx="1315.3" cy="236.8" rx="6.2" ry="5.8" stroke="#1e1e2a" stroke-width="1.1" fill="none"/><line x1="1318.6" y1="229.2" x2="1312.4" y2="244.5" stroke="#1e1e2a" stroke-width="1.1"/></g>
<text x="1324.3" y="242.6" font-family="Liberation Sans" font-size="17" font-weight="normal" fill="#1e1e2a" text-anchor="start" textLength="9.2" lengthAdjust="spacingAndGlyphs">4</text>
<circle cx="1289.1" cy="356.6" r="13.2" stroke="#131318" stroke-width="1.3" fill="none"/>
<path d="M1276.37,344.74 L1277.23,343.88 L1278.15,343.08 L1279.12,342.35 L1280.14,341.68 L1281.21,341.09 L1282.31,340.58 L1283.45,340.14 L1284.62,339.79 L1285.8,339.52 L1287.01,339.33 L1288.22,339.22 L1289.44,339.2 L1290.66,339.27 L1291.87,339.42 L1293.06,339.66 L1294.24,339.98 L1295.39,340.38 L1296.51,340.86 L1297.59,341.41 L1298.63,342.04 L1299.63,342.75 L1300.57,343.52 L1301.46,344.35 L1302.29,345.25 L1303.05,346.2 L1303.74,347.2 L1304.36,348.25 L1304.91,349.34 L1305.38,350.46 L1305.77,351.62 L1306.08,352.8 L1306.3,353.99 L1306.44,355.2 L1306.5,356.42 L1306.47,357.64 L1306.35,358.85 L1306.15,360.05 L1305.87,361.24 L1305.5,362.4 L1305.06,363.53 L1304.53,364.63 L1303.93,365.7 L1303.26,366.71 L1302.52,367.68 L1301.71,368.59 L1300.84,369.44 L1299.91,370.23 L1298.93,370.96 L1297.9,371.61 L1296.83,372.19 L1295.72,372.69 L1294.58,373.11 L1293.41,373.46 L1292.22,373.72 L1291.01,373.89 L1289.8,373.99 L1288.58,373.99 L1287.36,373.91 L1286.16,373.75 L1284.96,373.5 L1283.79,373.17 L1282.64,372.76 L1281.53,372.27 L1280.45,371.7 L1279.42,371.06 L1278.43,370.34 L1277.49,369.56 L1276.61,368.72 L1275.8,367.82 L1275.04,366.86 L1274.36,365.85 L1273.75,364.79 L1273.21,363.7 L1272.76,362.57 L1272.38,361.41 L1272.08,360.23 L1271.87,359.03 L1271.74,357.82 L1271.7,356.6" stroke="#131318" stroke-width="1.3" fill="none" />
<path d="M1276.46,338.84 L1277.73,338 L1279.06,337.25 L1280.44,336.59 L1281.87,336.03 L1283.33,335.58 L1284.82,335.23 L1286.32,334.98 L1287.85,334.84 L1289.37,334.8 L1290.9,334.87 L1292.42,335.05 L1293.92,335.34 L1295.4,335.73 L1296.85,336.22 L1298.26,336.82 L1299.62,337.51 L1300.93,338.29 L1302.19,339.17 L1303.38,340.13 L1304.5,341.17 L1305.54,342.28 L1306.5,343.47 L1307.38,344.72 L1308.17,346.03 L1308.86,347.4 L1309.46,348.8 L1309.95,350.25 L1310.35,351.73 L1310.64,353.23 L1310.82,354.75 L1310.9,356.27 L1310.87,357.8 L1310.73,359.32 L1310.48,360.83 L1310.14,362.32 L1309.68,363.78 L1309.13,365.21 L1308.48,366.59 L1307.73,367.92 L1306.89,369.2 L1305.96,370.42 L1304.95,371.57 L1303.86,372.64 L1302.7,373.63 L1301.48,374.55 L1300.19,375.37 L1298.85,376.1 L1297.45,376.74 L1296.02,377.27 L1294.56,377.71 L1293.06,378.04 L1291.55,378.26 L1290.03,378.38 L1288.5,378.39 L1286.97,378.3 L1285.46,378.09 L1283.96,377.79 L1282.49,377.37 L1281.05,376.86 L1279.65,376.24 L1278.29,375.53 L1276.99,374.73 L1275.75,373.84 L1274.58,372.86 L1273.47,371.8 L1272.45,370.67 L1271.5,369.47 L1270.64,368.2 L1269.88,366.88 L1269.2,365.51 L1268.63,364.09 L1268.15,362.64 L1267.78,361.15 L1267.51,359.65 L1267.35,358.13 L1267.3,356.6" stroke="#131318" stroke-width="1.3" fill="none" />
<line x1="1267.5" y1="357" x2="1276" y2="357" stroke="#131318" stroke-width="1.1" />
<path d="M1245.98,498.9 L1241.18,498.27 L1236.43,497.3 L1231.76,496 L1227.19,494.37 L1222.75,492.42 L1218.46,490.16 L1214.35,487.6 L1210.42,484.75 L1206.71,481.63 L1203.23,478.26 L1200,474.65 L1197.03,470.81 L1194.34,466.78 L1191.94,462.56 L1189.85,458.19 L1188.08,453.68 L1186.63,449.05 L1185.52,444.33 L1184.74,439.55 L1184.3,434.72 L1184.21,429.87 L1184.46,425.03 L1185.06,420.22 L1185.99,415.46 L1187.27,410.78 L1188.87,406.21 L1190.79,401.76 L1193.02,397.45 L1195.55,393.32 L1198.37,389.38 L1201.47,385.64 L1204.82,382.14 L1208.41,378.88 L1212.22,375.89 L1216.24,373.18 L1220.44,370.75 L1224.8,368.63 L1229.3,366.83 L1233.92,365.35 L1238.63,364.21 L1243.41,363.4 L1248.23,362.93 L1253.08,362.8 L1257.92,363.02 L1262.74,363.59 L1267.5,364.49" stroke="#131318" stroke-width="1.3" fill="none" />
<path d="M1295.32,378 L1299,381.21 L1302.45,384.67 L1305.64,388.37 L1308.55,392.29 L1311.18,396.41 L1313.5,400.7 L1315.51,405.15 L1317.2,409.74 L1318.56,414.43 L1319.57,419.21 L1320.24,424.04 L1320.57,428.92 L1320.54,433.8 L1320.17,438.67 L1319.44,443.5 L1318.38,448.27 L1316.97,452.94 L1315.24,457.51 L1313.18,461.94 L1310.81,466.21 L1308.14,470.3 L1305.18,474.19 L1301.96,477.85 L1298.48,481.28 L1294.76,484.45 L1290.83,487.34 L1286.7,489.95 L1282.39,492.25 L1277.93,494.24 L1273.34,495.91 L1268.64,497.24 L1263.86,498.23 L1259.02,498.88" stroke="#131318" stroke-width="1.3" fill="none" />
<path d="M1246.93,493.06 L1242.59,492.52 L1238.3,491.68 L1234.08,490.55 L1229.95,489.11 L1225.93,487.4 L1222.04,485.4 L1218.3,483.14 L1214.73,480.62 L1211.34,477.86 L1208.16,474.86 L1205.19,471.65 L1202.46,468.24 L1199.97,464.65 L1197.74,460.89 L1195.78,456.98 L1194.09,452.95 L1192.7,448.8 L1191.6,444.57 L1190.79,440.28 L1190.3,435.93 L1190.1,431.57 L1190.22,427.2 L1190.64,422.84 L1191.36,418.53 L1192.38,414.28 L1193.7,410.12 L1195.31,406.05 L1197.2,402.11 L1199.36,398.31 L1201.79,394.67 L1204.46,391.21 L1207.37,387.95 L1210.5,384.9 L1213.83,382.07 L1217.36,379.49 L1221.06,377.16 L1224.91,375.09 L1228.9,373.3 L1233,371.8 L1237.2,370.58 L1241.48,369.67 L1245.8,369.05 L1250.16,368.74 L1254.53,368.74 L1258.9,369.04 L1263.22,369.65 L1267.5,370.56" stroke="#131318" stroke-width="1.3" fill="none" />
<path d="M1285.15,378 L1288.84,380.47 L1292.35,383.2 L1295.66,386.16 L1298.74,389.36 L1301.59,392.77 L1304.19,396.37 L1306.53,400.15 L1308.59,404.09 L1310.36,408.17 L1311.84,412.36 L1313.02,416.64 L1313.89,421 L1314.45,425.41 L1314.69,429.84 L1314.61,434.29 L1314.22,438.71 L1313.51,443.1 L1312.5,447.43 L1311.17,451.67 L1309.55,455.81 L1307.64,459.82 L1305.44,463.68 L1302.98,467.38 L1300.25,470.89 L1297.29,474.2 L1294.1,477.29 L1290.69,480.14 L1287.09,482.75 L1283.31,485.09 L1279.38,487.16 L1275.31,488.94 L1271.12,490.42 L1266.84,491.6 L1262.48,492.48 L1258.07,493.04" stroke="#131318" stroke-width="1.3" fill="none" />
<rect x="1239.5" y="403.3" width="26.7" height="80" rx="0" stroke="#131318" stroke-width="0" fill="#fff"/>
<path d="M1266.2,403.3 L1241.5,403.3 Q1239.5,403.3 1239.5,405.3 L1239.5,483 L1266.2,483" stroke="#131318" stroke-width="1.4" fill="none" />
<rect x="1241.9" y="405.9" width="21.4" height="49.6" rx="0" stroke="#555" stroke-width="1.2" fill="none"/>
<line x1="1266.5" y1="403.3" x2="1266.5" y2="483" stroke="#131318" stroke-width="2.6" />
<path d="M1242.9,429.2 L1243.3,426 L1252.4,420.9 L1261.5,426 L1261.9,429.2" stroke="#131318" stroke-width="2.0" fill="none" />
<path d="M1242.9,432.4 L1243.3,435.6 L1252.4,440.5 L1261.5,435.6 L1261.9,432.4" stroke="#131318" stroke-width="2.0" fill="none" />
<circle cx="1252.4" cy="430.7" r="6.6" stroke="#131318" stroke-width="1.0" fill="none"/>
<circle cx="1252.4" cy="430.7" r="5" stroke="#131318" stroke-width="1.6" fill="none"/>
<line x1="1249.6" y1="427.9" x2="1255.2" y2="433.5" stroke="#131318" stroke-width="1.1" />
<path d="M1251.5,440 L1242.4,444.5 L1255,448.6" stroke="#131318" stroke-width="1.2" fill="none" />
<line x1="1256" y1="440" x2="1256" y2="455.5" stroke="#666" stroke-width="1.1" />
<line x1="1256" y1="439.8" x2="1263.3" y2="439.8" stroke="#666" stroke-width="1.1" />
<line x1="1239.5" y1="456.5" x2="1266.2" y2="456.5" stroke="#131318" stroke-width="1.4" />
<rect x="1242" y="458.2" width="21.6" height="22.1" rx="0" stroke="#131318" stroke-width="1.3" fill="none"/>
<line x1="1242" y1="458.2" x2="1263.6" y2="480.3" stroke="#131318" stroke-width="1.0" />
<path d="M1239.5,478 L1239.5,481.5 Q1239.5,483.3 1241.5,483.3 L1246,483.3 L1246,480.3 M1259.3,480.3 L1259.3,483.3 L1264,483.3 Q1266,483.3 1266,481.5 L1266,478" stroke="#131318" stroke-width="1.2" fill="none" />
<line x1="1242" y1="480.3" x2="1263.6" y2="480.3" stroke="#131318" stroke-width="1.2" />
<rect x="1226.7" y="454.2" width="10.8" height="20.6" rx="0" stroke="#131318" stroke-width="1.3" fill="none"/>
<rect x="1223.3" y="460.5" width="3.4" height="7.9" rx="1.2" stroke="#131318" stroke-width="1.2" fill="none"/>
<line x1="1226.7" y1="459.3" x2="1237.5" y2="459.3" stroke="#131318" stroke-width="1.0" />
<line x1="1226.7" y1="470" x2="1237.5" y2="470" stroke="#131318" stroke-width="1.0" />
<rect x="1237.5" y="454.2" width="1.7" height="20.6" rx="0" stroke="#131318" stroke-width="1.0" fill="none"/>
<path d="M1266.8,434 L1270,434 Q1276.7,435 1276.7,443.7 Q1276.7,452.4 1270,453.4 L1266.8,453.4" stroke="#131318" stroke-width="1.5" fill="none" />
<line x1="1270" y1="434.5" x2="1270" y2="453" stroke="#131318" stroke-width="1.3" />
<line x1="1273.3" y1="437" x2="1273.3" y2="451" stroke="#131318" stroke-width="1.0" />
<path d="M1266.8,455 L1270,455 Q1277.7,456 1277.7,465 Q1277.7,474 1270,475 L1266.8,475" stroke="#131318" stroke-width="1.5" fill="none" />
<line x1="1270" y1="455.5" x2="1270" y2="474.5" stroke="#131318" stroke-width="1.3" />
<circle cx="1274.2" cy="465" r="2.2" stroke="#131318" stroke-width="1.0" fill="none"/>
<line x1="1267.5" y1="403.5" x2="1430" y2="403.5" stroke="#131318" stroke-width="1.2" />
<line x1="1264" y1="565.5" x2="1430" y2="565.5" stroke="#131318" stroke-width="1.2" />
<line x1="1425" y1="403.7" x2="1425" y2="565" stroke="#131318" stroke-width="1.2" />
<polygon points="1425,403.7 1422,421.2 1428,421.2" fill="#131318"/>
<polygon points="1425,565 1422,547.5 1428,547.5" fill="#131318"/>
<text x="1423" y="483" font-family="Liberation Sans" font-size="17" font-weight="normal" fill="#1e1e2a" text-anchor="start" transform="rotate(-90 1423 483)" textLength="16" lengthAdjust="spacingAndGlyphs">75</text>
<line x1="1268.2" y1="483.5" x2="1368.5" y2="483.5" stroke="#131318" stroke-width="1.2" />
<line x1="1364.5" y1="448" x2="1364.5" y2="599" stroke="#131318" stroke-width="1.2" />
<polygon points="1364.5,483 1361.5,465.5 1367.5,465.5" fill="#131318"/>
<polygon points="1364.5,565 1361.5,582.5 1367.5,582.5" fill="#131318"/>
<text x="1361.6" y="526.4" font-family="Liberation Sans" font-size="17" font-weight="normal" fill="#1e1e2a" text-anchor="start" transform="rotate(-90 1361.6 526.4)" textLength="17.4" lengthAdjust="spacingAndGlyphs">37</text>
<line x1="1239.5" y1="486" x2="1239.5" y2="510.5" stroke="#131318" stroke-width="1.2" />
<line x1="1265.7" y1="486" x2="1265.7" y2="510.5" stroke="#131318" stroke-width="1.2" />
<line x1="1155.5" y1="505.4" x2="1301" y2="505.4" stroke="#131318" stroke-width="1.2" />
<polygon points="1239.5,505.4 1221.5,502.4 1221.5,508.4" fill="#131318"/>
<polygon points="1265.7,505.4 1283.7,502.4 1283.7,508.4" fill="#131318"/>
<text x="1163.9" y="501.8" font-family="Liberation Sans" font-size="17" font-weight="normal" fill="#1e1e2a" text-anchor="start" textLength="30.6" lengthAdjust="spacingAndGlyphs">12,2</text>
<path d="M1248.4,482.5 L1241.5,527 L1241.5,565 L1263.5,565 L1263.5,527 L1256.6,482.5" stroke="#131318" stroke-width="1.4" fill="none" />
<path d="M1241.5,527 L1245.3,549.5 L1245.3,565 M1263.5,527 L1259.7,549.5 L1259.7,565" stroke="#131318" stroke-width="1.2" fill="none" />
<path d="M1245.3,549.5 C1247,540 1250,536.7 1252,536.7 C1254.5,536.7 1258,540 1259.7,549.5" stroke="#131318" stroke-width="1.2" fill="none" />
<line x1="1248.4" y1="543.4" x2="1259.1" y2="553.6" stroke="#131318" stroke-width="1.1" />
<path d="M1249.4,565 A3.3,3.3 0 0 1 1256,565" stroke="#131318" stroke-width="1.2" fill="none" />
<text x="1202.5" y="629" font-family="Liberation Sans" font-size="16" font-weight="normal" fill="#1e1e2a" text-anchor="start" textLength="100" lengthAdjust="spacingAndGlyphs">SCHNITT A-A</text>
<line x1="100.5" y1="677.5" x2="100.5" y2="716.5" stroke="#131318" stroke-width="1.2" />
<line x1="749.8" y1="673.4" x2="749.8" y2="716.2" stroke="#131318" stroke-width="1.2" />
<line x1="100.5" y1="681.6" x2="749.8" y2="681.6" stroke="#131318" stroke-width="1.2" />
<polygon points="100.5,681.6 118,678.6 118,684.6" fill="#131318"/>
<polygon points="749.8,681.6 732.3,678.6 732.3,684.6" fill="#131318"/>
<rect x="392.4" y="657.5" width="44.5" height="20" rx="10" stroke="#131318" stroke-width="1.0" fill="none"/>
<text x="414.6" y="673.8" font-family="Liberation Sans" font-size="17" font-weight="normal" fill="#1e1e2a" text-anchor="middle">Y</text>
<rect x="100.5" y="721" width="649.3" height="20.4" rx="0" stroke="#131318" stroke-width="1.7" fill="none"/>
<path d="M104.5,741.6 L92.5,826.4 L757.6,826.4 L745.6,741.6 M113,741.6 L122.5,809.3 L132,741.6 M140.47,741.6 L149.97,809.3 L159.47,741.6 M167.94,741.6 L177.44,809.3 L186.94,741.6 M195.41,741.6 L204.91,809.3 L214.41,741.6 M222.88,741.6 L232.38,809.3 L241.88,741.6 M250.35,741.6 L259.85,809.3 L269.35,741.6 M277.82,741.6 L287.32,809.3 L296.82,741.6 M305.29,741.6 L314.79,809.3 L324.29,741.6 M332.76,741.6 L342.26,809.3 L351.76,741.6 M360.23,741.6 L369.73,809.3 L379.23,741.6 M387.7,741.6 L397.2,809.3 L406.7,741.6 M415.17,741.6 L424.67,809.3 L434.17,741.6 M442.64,741.6 L452.14,809.3 L461.64,741.6 M470.11,741.6 L479.61,809.3 L489.11,741.6 M497.58,741.6 L507.08,809.3 L516.58,741.6 M525.05,741.6 L534.55,809.3 L544.05,741.6 M552.52,741.6 L562.02,809.3 L571.52,741.6 M579.99,741.6 L589.49,809.3 L598.99,741.6 M607.46,741.6 L616.96,809.3 L626.46,741.6 M634.93,741.6 L644.43,809.3 L653.93,741.6 M662.4,741.6 L671.9,809.3 L681.4,741.6 M689.87,741.6 L699.37,809.3 L708.87,741.6 M717.34,741.6 L726.84,809.3 L736.34,741.6 M92.5,826.4 C97.22,811.19 101.61,789.3 108.77,789.3 C114.81,789.3 118.52,805.82 122.5,817.3 M122.5,817.3 C126.48,805.82 130.19,789.3 136.24,789.3 C142.28,789.3 145.99,805.82 149.97,817.3 M149.97,817.3 C153.95,805.82 157.66,789.3 163.7,789.3 C169.75,789.3 173.46,805.82 177.44,817.3 M177.44,817.3 C181.42,805.82 185.13,789.3 191.18,789.3 C197.22,789.3 200.93,805.82 204.91,817.3 M204.91,817.3 C208.89,805.82 212.6,789.3 218.64,789.3 C224.69,789.3 228.4,805.82 232.38,817.3 M232.38,817.3 C236.36,805.82 240.07,789.3 246.12,789.3 C252.16,789.3 255.87,805.82 259.85,817.3 M259.85,817.3 C263.83,805.82 267.54,789.3 273.59,789.3 C279.63,789.3 283.34,805.82 287.32,817.3 M287.32,817.3 C291.3,805.82 295.01,789.3 301.05,789.3 C307.1,789.3 310.81,805.82 314.79,817.3 M314.79,817.3 C318.77,805.82 322.48,789.3 328.52,789.3 C334.57,789.3 338.28,805.82 342.26,817.3 M342.26,817.3 C346.24,805.82 349.95,789.3 356,789.3 C362.04,789.3 365.75,805.82 369.73,817.3 M369.73,817.3 C373.71,805.82 377.42,789.3 383.47,789.3 C389.51,789.3 393.22,805.82 397.2,817.3 M397.2,817.3 C401.18,805.82 404.89,789.3 410.93,789.3 C416.98,789.3 420.69,805.82 424.67,817.3 M424.67,817.3 C428.65,805.82 432.36,789.3 438.4,789.3 C444.45,789.3 448.16,805.82 452.14,817.3 M452.14,817.3 C456.12,805.82 459.83,789.3 465.88,789.3 C471.92,789.3 475.63,805.82 479.61,817.3 M479.61,817.3 C483.59,805.82 487.3,789.3 493.35,789.3 C499.39,789.3 503.1,805.82 507.08,817.3 M507.08,817.3 C511.06,805.82 514.77,789.3 520.81,789.3 C526.86,789.3 530.57,805.82 534.55,817.3 M534.55,817.3 C538.53,805.82 542.24,789.3 548.28,789.3 C554.33,789.3 558.04,805.82 562.02,817.3 M562.02,817.3 C566,805.82 569.71,789.3 575.75,789.3 C581.8,789.3 585.51,805.82 589.49,817.3 M589.49,817.3 C593.47,805.82 597.18,789.3 603.23,789.3 C609.27,789.3 612.98,805.82 616.96,817.3 M616.96,817.3 C620.94,805.82 624.65,789.3 630.69,789.3 C636.74,789.3 640.45,805.82 644.43,817.3 M644.43,817.3 C648.41,805.82 652.12,789.3 658.16,789.3 C664.21,789.3 667.92,805.82 671.9,817.3 M671.9,817.3 C675.88,805.82 679.59,789.3 685.63,789.3 C691.68,789.3 695.39,805.82 699.37,817.3 M699.37,817.3 C703.35,805.82 707.06,789.3 713.11,789.3 C719.15,789.3 722.86,805.82 726.84,817.3 M726.84,817.3 C730.82,805.82 734.53,789.3 740.57,789.3 C748.07,789.3 752.66,811.19 757.6,826.4" stroke="#131318" stroke-width="1.3" fill="none" />
<rect x="1241.4" y="720.7" width="21.3" height="21.1" rx="0" stroke="#131318" stroke-width="1.3" fill="none"/>
<path d="M1247.5,741.8 L1241.4,790 L1241.4,826.4 L1262.7,826.4 L1262.7,790 L1256.6,741.8" stroke="#131318" stroke-width="1.3" fill="none" />
<path d="M1241.4,790 Q1243,815 1252,826.4 Q1261,815 1262.7,790" stroke="#131318" stroke-width="1.2" fill="none" />
<line x1="1196.4" y1="659.3" x2="1196.4" y2="776.4" stroke="#131318" stroke-width="1.2" />
<line x1="1191.8" y1="720.7" x2="1238.4" y2="720.7" stroke="#131318" stroke-width="1.2" />
<line x1="1191.8" y1="741.8" x2="1238.4" y2="741.8" stroke="#131318" stroke-width="1.2" />
<polygon points="1196.4,720.7 1193.5,703.2 1199.3,703.2" fill="#131318"/>
<polygon points="1196.4,741.8 1193.5,759.3 1199.3,759.3" fill="#131318"/>
<text x="1195.2" y="688.9" font-family="Liberation Sans" font-size="17" font-weight="normal" fill="#1e1e2a" text-anchor="start" transform="rotate(-90 1195.2 688.9)" textLength="23.9" lengthAdjust="spacingAndGlyphs">9,7</text>
<line x1="1207.3" y1="704.3" x2="1327" y2="704.3" stroke="#131318" stroke-width="1.2" />
<line x1="1241.4" y1="699.5" x2="1241.4" y2="720.7" stroke="#131318" stroke-width="1.2" />
<line x1="1262.7" y1="699.5" x2="1262.7" y2="720.7" stroke="#131318" stroke-width="1.2" />
<polygon points="1241.4,704.3 1223.9,701.3 1223.9,707.3" fill="#131318"/>
<polygon points="1262.7,704.3 1280.2,701.3 1280.2,707.3" fill="#131318"/>
<text x="1296.4" y="701" font-family="Liberation Sans" font-size="17" font-weight="normal" fill="#1e1e2a" text-anchor="start" textLength="23.8" lengthAdjust="spacingAndGlyphs">9,5</text>
<line x1="1262.7" y1="720.7" x2="1365.7" y2="720.7" stroke="#131318" stroke-width="1.2" />
<line x1="1266.8" y1="826.4" x2="1365.7" y2="826.4" stroke="#131318" stroke-width="1.2" />
<line x1="1360" y1="720.7" x2="1360" y2="826.4" stroke="#131318" stroke-width="1.2" />
<polygon points="1360,720.7 1357,738.2 1363,738.2" fill="#131318"/>
<polygon points="1360,826.4 1357,808.9 1363,808.9" fill="#131318"/>
<text x="1357.7" y="776.4" font-family="Liberation Sans" font-size="17" font-weight="normal" fill="#1e1e2a" text-anchor="start" transform="rotate(-90 1357.7 776.4)" textLength="19.4" lengthAdjust="spacingAndGlyphs">48</text>
</svg></body></html>
